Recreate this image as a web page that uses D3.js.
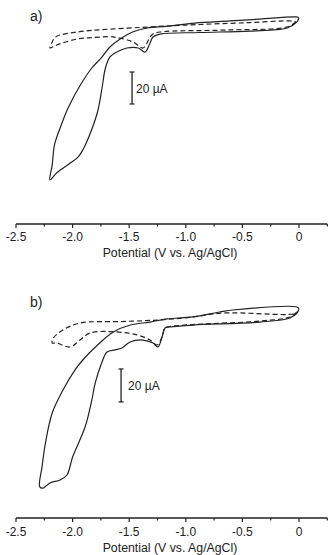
<!DOCTYPE html>
<html><head><meta charset="utf-8">
<script src="https://cdn.jsdelivr.net/npm/d3@7"></script>
<style>
html,body{margin:0;padding:0;background:#fff;}
text{font-family:"Liberation Sans",Arial,sans-serif;fill:#222;}
</style></head>
<body><svg id="c" width="332" height="555"></svg>
<script>
// Potential (V vs Ag/AgCl) and current (µA) pairs
const panelLabels = ["a)", "b)"];
const xTickValues = [-2.5, -2.0, -1.5, -1.0, -0.5, 0];
const xTickLabels = ["-2.5", "-2.0", "-1.5", "-1.0", "-0.5", "0"];
const xMinorTicks = [-2.25, -1.75, -1.25, -0.75, -0.25, 0.25];
const axisTitle = "Potential (V vs. Ag/AgCl)";
const scaleBarLabel = "20 \u00B5A";
const scaleBarSize = 20;

// panel a, solid
const aSolidV = [0, -0.02, -0.106, -0.433, -0.875, -1.228, -1.29, -1.316, -1.36, -1.42, -1.52, -1.61, -1.67, -1.71, -1.74, -1.78, -1.85, -1.91, -1.95, -2.02, -2.14, -2.2,
  -2.18, -2.16, -2.11, -2.04, -1.93, -1.83, -1.74, -1.67, -1.58, -1.47, -1.34, -1.17, -0.92, -0.61, -0.345, -0.02, 0];
const aSolidI = [3.75, 1.2, -2.5, -4.4, -5.3, -6.3, -8.1, -11.9, -17.5, -15, -15, -17.5, -20.6, -27.5, -40, -55, -69.4, -78.75, -83, -86.9, -93, -97.5,
  -88, -75.6, -65, -52.5, -38, -27.5, -20.6, -14.4, -9.4, -5, -2.5, -1.5, 0.6, 1.9, 3.1, 4.4, 3.75];
// panel a, dashed
const aDashV = [-0.027, -0.106, -0.636, -1.228, -1.29, -1.316, -1.378, -1.466, -1.643, -1.81, -1.96, -2.14, -2.2,
  -2.18, -2.15, -1.96, -1.34, -0.875, -0.433, -0.08, -0.027];
const aDashI = [1.25, -1.9, -3.75, -5, -6.25, -8.1, -15, -11.25, -8.1, -8.4, -9.4, -13.1, -15,
  -11.25, -8.1, -5, -1.9, -0.3, 0.9, 1.9, 1.25];

// panel b, solid
const bSolidV = [0, -0.018, -0.08, -0.345, -0.936, -1.14, -1.184, -1.21, -1.246, -1.29, -1.378, -1.493, -1.564, -1.625, -1.696, -1.74, -1.80, -1.83, -1.89, -2.0, -2.05, -2.11, -2.2, -2.26, -2.29,
  -2.27, -2.24, -2.18, -2.085, -1.98, -1.91, -1.78, -1.64, -1.49, -1.316, -1.166, -0.936, -0.70, -0.583, -0.018, 0];
const bSolidI = [1.8, -0.6, -3.6, -6.1, -7.9, -9.1, -9.7, -15.2, -21.2, -18.8, -17, -18.2, -21.8, -23, -24.2, -30.3, -43, -53.3, -69.7, -87.9, -98.8, -101.8, -103.6, -106.7, -106,
  -93.9, -79.4, -61.2, -47.3, -35.2, -29.1, -20, -12.1, -7.9, -6.1, -4.2, -3, 0, 1.2, 3, 1.8];
// panel b, dashed
const bDashV = [-0.018, -0.08, -0.345, -0.936, -1.14, -1.184, -1.21, -1.254, -1.316, -1.43, -1.608, -1.846, -1.935, -2.023, -2.14, -2.18,
  -2.17, -2.085, -1.935, -1.58, -1.228, -0.936, -0.67, -0.053, -0.018];
const bDashI = [0, -3, -5.5, -7.6, -8.8, -9.7, -15.2, -20, -17, -13.9, -12.1, -12.7, -17, -21.2, -18.8, -18.8,
  -15.8, -10.9, -6.7, -5.8, -4.8, -3, -0.6, -1.2, 0];

// scale bar anchors (V, µA at bottom)
const scaleBarV = [-1.475, -1.572];
const scaleBarI0 = [-50, -54.5];

const svg = d3.select("#c");
const x = d3.scaleLinear().domain([-2.5, 0.25]).range([16, 327.3]);
const panels = [
  {y: d3.scaleLinear().domain([-100, 10]).range([184, 8]), axisY: 224, labelY: 21,
   solidV: aSolidV, solidI: aSolidI, dashV: aDashV, dashI: aDashI, tickLabY: 241, titleY: 257},
  {y: d3.scaleLinear().domain([-110, 5]).range([493.5, 303.75]), axisY: 518, labelY: 307,
   solidV: bSolidV, solidI: bSolidI, dashV: bDashV, dashI: bDashI, tickLabY: 536, titleY: 552}
];

panels.forEach((p, k) => {
  const g = svg.append("g");
  const line = d3.line().x(d => x(d[0])).y(d => p.y(d[1])).curve(d3.curveCatmullRom.alpha(0.5));
  const solid = p.solidV.map((v, i) => [v, p.solidI[i]]);
  const dash = p.dashV.map((v, i) => [v, p.dashI[i]]);
  g.append("path").attr("d", line(dash)).attr("fill", "none").attr("stroke", "#222")
    .attr("stroke-width", 1.2).attr("stroke-dasharray", "5,3");
  g.append("path").attr("d", line(solid)).attr("fill", "none").attr("stroke", "#222")
    .attr("stroke-width", 1.2);

  // panel label
  g.append("text").attr("x", 30).attr("y", p.labelY).attr("font-size", 14).text(panelLabels[k]);

  // scale bar
  const sx = x(scaleBarV[k]);
  const y0 = p.y(scaleBarI0[k]), y1 = p.y(scaleBarI0[k] + scaleBarSize);
  g.append("line").attr("x1", sx).attr("x2", sx).attr("y1", y0).attr("y2", y1).attr("stroke", "#222").attr("stroke-width", 1.3);
  [y0, y1].forEach(yy => g.append("line").attr("x1", sx - 2.5).attr("x2", sx + 2.5).attr("y1", yy).attr("y2", yy).attr("stroke", "#222").attr("stroke-width", 1.2));
  g.append("text").attr("x", sx + (k === 0 ? 4 : 7)).attr("y", (y0 + y1) / 2 + 4.5).attr("font-size", 12).text(scaleBarLabel);

  // x axis
  const ax = g.append("g").attr("transform", `translate(0,${p.axisY})`);
  ax.append("line").attr("x1", x.range()[0]).attr("x2", x.range()[1]).attr("stroke", "#222").attr("stroke-width", 1.3);
  ax.selectAll(".maj").data(xTickValues).join("line").attr("x1", d => x(d)).attr("x2", d => x(d))
    .attr("y1", 0).attr("y2", 4).attr("stroke", "#222").attr("stroke-width", 1.2);
  ax.selectAll(".min").data(xMinorTicks).join("line").attr("class", "min").attr("x1", d => x(d)).attr("x2", d => x(d))
    .attr("y1", 0).attr("y2", 2.5).attr("stroke", "#222").attr("stroke-width", 1.2);
  g.selectAll(".tl").data(xTickValues).join("text").attr("class", "tl")
    .attr("x", d => x(d)).attr("y", p.tickLabY).attr("text-anchor", "middle").attr("font-size", 12)
    .text((d, i) => xTickLabels[i]);
  g.append("text").attr("x", 170).attr("y", p.titleY).attr("text-anchor", "middle").attr("font-size", 12.3).text(axisTitle);
});
</script></body></html>
